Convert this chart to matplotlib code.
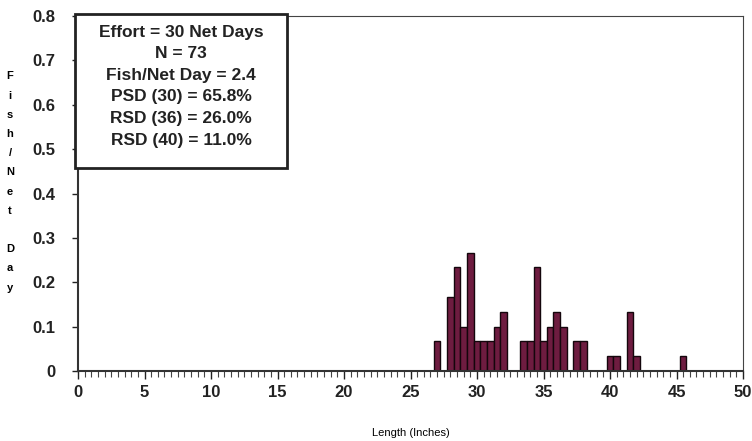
import numpy as np
from matplotlib import pyplot as plt
from matplotlib.ticker import MultipleLocator
from matplotlib.patches import Rectangle

# length bins (inches) and fish per net day
lengths = [27.0, 28.0, 28.5, 29.0, 29.5, 30.0, 30.5, 31.0, 31.5, 32.0,
           33.5, 34.0, 34.5, 35.0, 35.5, 36.0, 36.5, 37.5, 38.0,
           40.0, 40.5, 41.5, 42.0, 45.5]
counts = [2, 5, 7, 3, 8, 2, 2, 2, 3, 4,
          2, 2, 7, 2, 3, 4, 3, 2, 2,
          1, 1, 4, 1, 1]
net_days = 30
cpue = np.array(counts) / net_days

stats = ["Effort = 30 Net Days", "N = 73", "Fish/Net Day = 2.4",
         "PSD (30) = 65.8%", "RSD (36) = 26.0%", "RSD (40) = 11.0%"]

plt.rcParams['font.family'] = ['Liberation Sans', 'DejaVu Sans']
plt.rcParams['font.weight'] = 'bold'

fig = plt.figure(figsize=(7.52, 4.41), dpi=100)
ax = fig.add_axes([78 / 752, 1 - 371 / 441, 665 / 752, 355 / 441])

ax.bar(lengths, cpue, width=0.5, color='#6e1c40', edgecolor='#14060c',
       linewidth=1.0, align='center')

ax.set_xlim(0, 50)
ax.set_ylim(0, 0.8)
ax.xaxis.set_major_locator(MultipleLocator(5))
ax.xaxis.set_minor_locator(MultipleLocator(0.5))
ax.set_yticks(np.arange(0, 0.81, 0.1))
ax.set_yticklabels(['0'] + ['%.1f' % v for v in np.arange(0.1, 0.81, 0.1)])
ax.tick_params(axis='x', which='major', direction='out', length=6, width=1,
               labelsize=12, pad=4, colors='#222222')
ax.tick_params(axis='x', which='minor', direction='out', length=4, width=0.8,
               colors='#444444')
ax.tick_params(axis='y', direction='out', length=4, width=1, labelsize=12,
               pad=12, colors='#222222')

for s in ['top', 'right']:
    ax.spines[s].set_linewidth(0.8)
    ax.spines[s].set_color('#444444')
for s in ['left', 'bottom']:
    ax.spines[s].set_linewidth(1.5)
    ax.spines[s].set_color('#333333')

ax.set_xlabel('Length (Inches)', fontsize=8, labelpad=20)

# stacked-letter y label
fig.text(10 / 752, 1 - 182 / 441, '\n'.join('Fish/Net Day'), fontsize=8,
         ha='center', va='center', linespacing=2.15)

# statistics box
px = lambda v: (v - 78) / 665
py = lambda v: (371 - v) / 355
ax.add_patch(Rectangle((px(75), py(168)), px(287) - px(75), py(14) - py(168),
                       transform=ax.transAxes, facecolor='white',
                       edgecolor='#222222', linewidth=2, clip_on=False,
                       zorder=5))
for i, line in enumerate(stats):
    ax.text(px(181), py(32 + 21.6 * i), line, transform=ax.transAxes,
            fontsize=12.5, ha='center', va='center', zorder=6,
            color='#222222')

plt.savefig('out.png', dpi=100)
